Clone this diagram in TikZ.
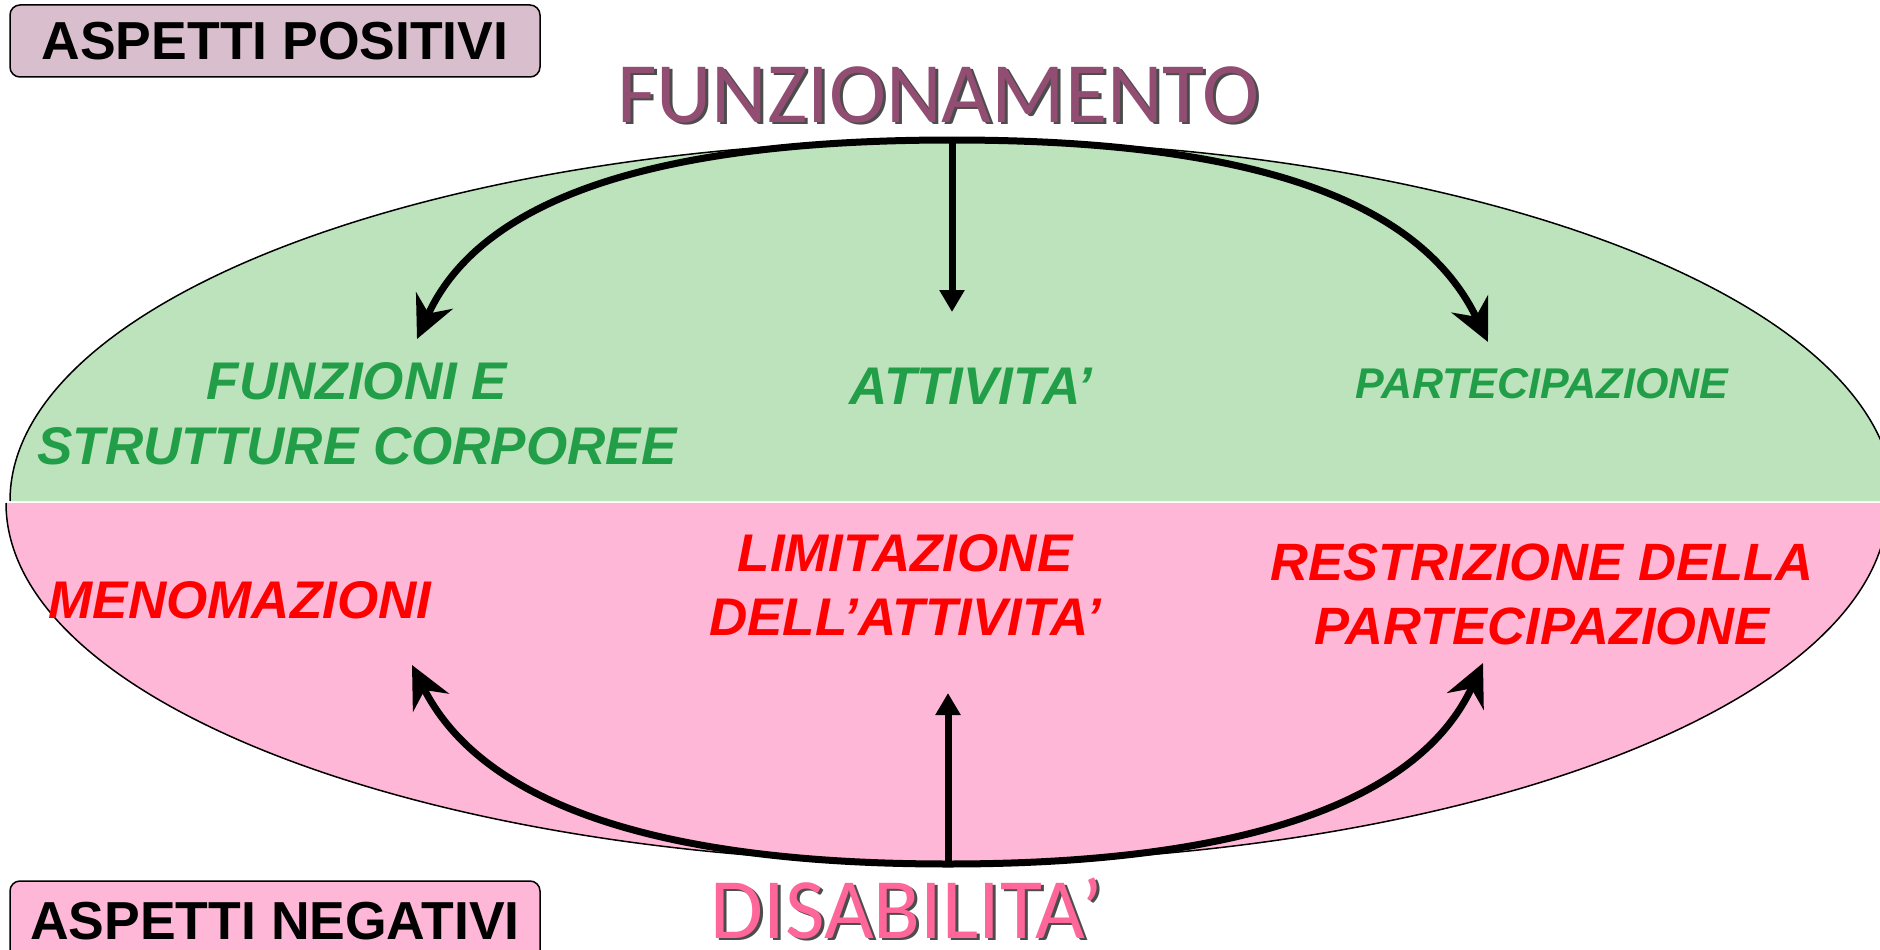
\documentclass[tikz,border=0pt]{standalone}
\usepackage{fontspec}
\setmainfont{Liberation Sans}
\newfontfamily\calib{Carlito}
\usetikzlibrary{arrows.meta}
\definecolor{greenfill}{RGB}{188,227,188}
\definecolor{pinkfill}{RGB}{254,183,214}
\definecolor{posfill}{RGB}{217,191,205}
\definecolor{greentext}{RGB}{34,158,72}
\definecolor{redtext}{RGB}{255,0,0}
\definecolor{funzcol}{RGB}{146,78,114}
\definecolor{discol}{RGB}{255,102,153}
\newcommand\shadowed[2]{\makebox[0pt][l]{\hspace{3pt}\raisebox{-2.5pt}{\color{black!70}#2}}{\color{#1}#2}}
\tikzset{
  halfedge/.style={line width=1.5pt, draw=black},
  labbox/.style={draw=black, line width=1.5pt, rounded corners=10pt, minimum width=530pt, inner sep=0pt,
    font=\fontsize{53.5}{60}\selectfont\bfseries},
  greenlab/.style={text=greentext, align=center, inner sep=0pt, anchor=base,
    font=\fontsize{53}{65}\selectfont\bfseries\itshape},
  redlab/.style={text=redtext, align=center, inner sep=0pt, anchor=base,
    font=\fontsize{53}{64}\selectfont\bfseries\itshape},
  title/.style={inner sep=0pt, anchor=base, font=\calib\fontsize{86}{90}\selectfont},
  curvearrow/.style={line width=7pt, -{Stealth[length=42pt,width=40pt,inset=14pt]}},
  straightarrow/.style={line width=7pt, -{Triangle[length=22pt,width=24pt]}}
}
\begin{document}
\begin{tikzpicture}[x=1pt,y=1pt]
\useasboundingbox (0,0) rectangle (1880,-950);
\begin{scope}
\clip (0,0) rectangle (1880,-950);
% upper half ellipse
\fill[greenfill] (10,-501) arc[start angle=180,end angle=0,x radius=942pt,y radius=361pt] -- cycle;
\draw[halfedge] (10,-501) arc[start angle=180,end angle=0,x radius=942pt,y radius=361pt];
% lower half ellipse
\fill[pinkfill] (6,-503) arc[start angle=180,end angle=360,x radius=941pt,y radius=360pt] -- cycle;
\draw[halfedge] (6,-503) arc[start angle=180,end angle=360,x radius=941pt,y radius=360pt];

% label boxes
\node[labbox, fill=posfill, minimum height=72pt] (pos) at (275,-41) {ASPETTI POSITIVI};
\node[labbox, fill=pinkfill, minimum height=80pt] (neg) at (275,-921) {ASPETTI NEGATIVI};

% titles
\node[title] (funz) at (938,-122) {\shadowed{funzcol}{FUNZIONAMENTO}};
\node[title] (dis) at (907,-938) {\shadowed{discol}{DISABILITA’}};

% green labels (anchor base = baseline of last line)
\node[greenlab] (fsc) at (357,-464) {FUNZIONI E\\STRUTTURE CORPOREE};
\node[greenlab] (att) at (971,-404) {ATTIVITA’};
\node[greenlab, font=\fontsize{43}{50}\selectfont\bfseries\itshape] (part) at (1542,-398) {PARTECIPAZIONE};

% red labels
\node[redlab] (men) at (240,-618) {MENOMAZIONI};
\node[redlab] (lim) at (905,-635) {LIMITAZIONE\\DELL’ATTIVITA’};
\node[redlab, font=\fontsize{52.5}{64}\selectfont\bfseries\itshape] (rest) at (1542,-644) {RESTRIZIONE DELLA\\PARTECIPAZIONE};

% arrow anchors
\coordinate (ftop) at (952,-140);
\coordinate (dbot) at (948,-864);
\coordinate (t1) at (417,-339);
\coordinate (t2) at (952,-312);
\coordinate (t3) at (1488,-342);
\coordinate (b1) at (412,-665);
\coordinate (b2) at (948,-693);
\coordinate (b3) at (1483,-663);

\draw[curvearrow] (ftop) .. controls +(-300,0) and +(63,139) .. (t1);
\draw[curvearrow] (ftop) .. controls +(300,0) and +(-68,142) .. (t3);
\draw[straightarrow] (ftop) -- (t2);

\draw[curvearrow] (dbot) .. controls +(-300,0) and +(68,-135) .. (b1);
\draw[curvearrow] (dbot) .. controls +(300,0) and +(-63,-137) .. (b3);
\draw[straightarrow] (dbot) -- (b2);
\end{scope}
\end{tikzpicture}
\end{document}
